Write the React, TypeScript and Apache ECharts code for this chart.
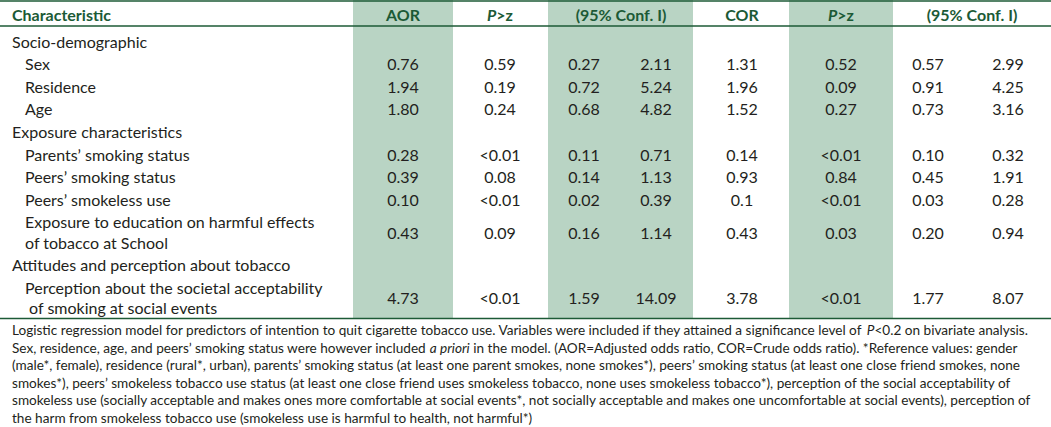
import React, { useEffect, useRef } from "react";
import * as echarts from "echarts";

// ---- Data ----
const headers = ["AOR", "{i|P}>z", "(95% Conf. I)", "COR", "{i|P}>z", "(95% Conf. I)"];
const labels = [
  "Socio-demographic",
  "Sex",
  "Residence",
  "Age",
  "Exposure characteristics",
  "Parents’ smoking status",
  "Peers’ smoking status",
  "Peers’ smokeless use",
  "Exposure to education on harmful effects\nof tobacco at School",
  "Attitudes and perception about tobacco",
  "Perception about the societal acceptability\n of smoking at social events",
];
const isGroup = [true, false, false, false, true, false, false, false, false, true, false];
const aor = ["", "0.76", "1.94", "1.80", "", "0.28", "0.39", "0.10", "0.43", "", "4.73"];
const pAor = ["", "0.59", "0.19", "0.24", "", "<0.01", "0.08", "<0.01", "0.09", "", "<0.01"];
const ciLowA = ["", "0.27", "0.72", "0.68", "", "0.11", "0.14", "0.02", "0.16", "", "1.59"];
const ciHighA = ["", "2.11", "5.24", "4.82", "", "0.71", "1.13", "0.39", "1.14", "", "14.09"];
const cor = ["", "1.31", "1.96", "1.52", "", "0.14", "0.93", "0.1", "0.43", "", "3.78"];
const pCor = ["", "0.52", "0.09", "0.27", "", "<0.01", "0.84", "<0.01", "0.03", "", "<0.01"];
const ciLowC = ["", "0.57", "0.91", "0.73", "", "0.10", "0.45", "0.03", "0.20", "", "1.77"];
const ciHighC = ["", "2.99", "4.25", "3.16", "", "0.32", "1.91", "0.28", "0.94", "", "8.07"];
const footnote = [
  "Logistic regression model for predictors of intention to quit cigarette tobacco use. Variables were included if they attained a significance level of {i|P}<0.2 on bivariate analysis.",
  "Sex, residence, age, and peers’ smoking status were however included {i|a priori} in the model. (AOR=Adjusted odds ratio, COR=Crude odds ratio). *Reference values: gender",
  "(male*, female), residence (rural*, urban), parents’ smoking status (at least one parent smokes, none smokes*), peers’ smoking status (at least one close friend smokes, none",
  "smokes*), peers’ smokeless tobacco use status (at least one close friend uses smokeless tobacco, none uses smokeless tobacco*), perception of the social acceptability of",
  "smokeless use (socially acceptable and makes ones more comfortable at social events*, not socially acceptable and makes one uncomfortable at social events), perception of",
  "the harm from smokeless tobacco use (smokeless use is harmful to health, not harmful*)",
];

// ---- Layout ----
const W = 1051;
const H = 427;
const FONT = "Lato";
const TEXT = "#231f20";
const GREEN = "#1c5a36";
const SHADE = "#b9d4c4";
const BODY = 16;
const FOOT = 13.6;
const colX = [403, 500, 584, 656, 742, 841, 928, 1008];
const headX = [403, 500, 621, 742, 841, 972];
const shaded: [number, number][] = [[353, 453], [548, 693], [789, 893]];
const topY = 0;
const headLineY = 26;
const firstTop = 29.7;
const rowH = 22.6;
const lineGap = 20.4;
const bottomY = 318.5;
const footY = 330;
const footGap = 17.6;

const measureCtx = document.createElement("canvas").getContext("2d")!;
function fontStr(italic: boolean, weight: string, size: number) {
  return `${italic ? "italic " : ""}${weight} ${size}px ${FONT}`;
}

// split "{i|...}" markup into plain / italic segments and lay them out side by side
function txt(text: string, x: number, y: number, opts: any = {}) {
  const size = opts.size || BODY;
  const weight = opts.weight || "normal";
  const fill = opts.fill || TEXT;
  const align = opts.align || "left";
  const parts = text
    .split(/(\{i\|[^}]*\})/)
    .filter((p) => p.length > 0)
    .map((p) => (p.startsWith("{i|") ? { t: p.slice(3, -1), it: true } : { t: p, it: false }));
  const widths = parts.map((p) => {
    measureCtx.font = fontStr(p.it, weight, size);
    return measureCtx.measureText(p.t).width;
  });
  const total = widths.reduce((a, b) => a + b, 0);
  let cx = align === "center" ? x - total / 2 : x;
  const out: any[] = [];
  parts.forEach((p, k) => {
    out.push({
      type: "text",
      silent: true,
      style: {
        text: p.t,
        x: cx,
        y,
        fill,
        fontFamily: FONT,
        fontSize: size,
        fontWeight: weight,
        fontStyle: p.it ? "italic" : "normal",
        align: "left",
        verticalAlign: "middle",
        textAlign: "left",
        textVerticalAlign: "middle",
      },
    });
    cx += widths[k];
  });
  return out;
}

export default function App() {
  const ref = useRef<HTMLDivElement>(null);
  useEffect(() => {
    document.body.style.margin = "0";
    const chart = echarts.init(ref.current!, null, { renderer: "svg" });
    const els: any[] = [];
    shaded.forEach(([a, b]) =>
      els.push({ type: "rect", silent: true, shape: { x: a, y: topY, width: b - a, height: bottomY - topY }, style: { fill: SHADE } })
    );
    [topY + 1, headLineY, bottomY].forEach((y) =>
      els.push({ type: "line", silent: true, shape: { x1: 0, y1: y, x2: W, y2: y }, style: { stroke: GREEN, lineWidth: 1.5 } })
    );
    els.push(...txt("Characteristic", 12, 14, { weight: "bold", fill: GREEN }));
    headers.forEach((h, i) => els.push(...txt(h, headX[i], 14, { weight: "bold", fill: GREEN, align: "center" })));
    const cols = [aor, pAor, ciLowA, ciHighA, cor, pCor, ciLowC, ciHighC];
    let top = firstTop;
    labels.forEach((lab, r) => {
      const lines = lab.split("\n");
      const h = lines.length === 1 ? rowH : rowH + lineGap;
      lines.forEach((ln, k) => {
        els.push(...txt(ln, isGroup[r] ? 12 : 25, top + rowH / 2 + k * lineGap));
      });
      const cy = top + h / 2;
      cols.forEach((c, ci) => {
        if (c[r]) els.push(...txt(c[r], colX[ci], cy, { align: "center" }));
      });
      top += h;
    });
    footnote.forEach((f, i) => els.push(...txt(f, 12, footY + i * footGap, { size: FOOT })));
    chart.setOption({ animation: false, graphic: { elements: els } });
    return () => chart.dispose();
  }, []);
  return <div ref={ref} style={{ width: W, height: H }} />;
}
